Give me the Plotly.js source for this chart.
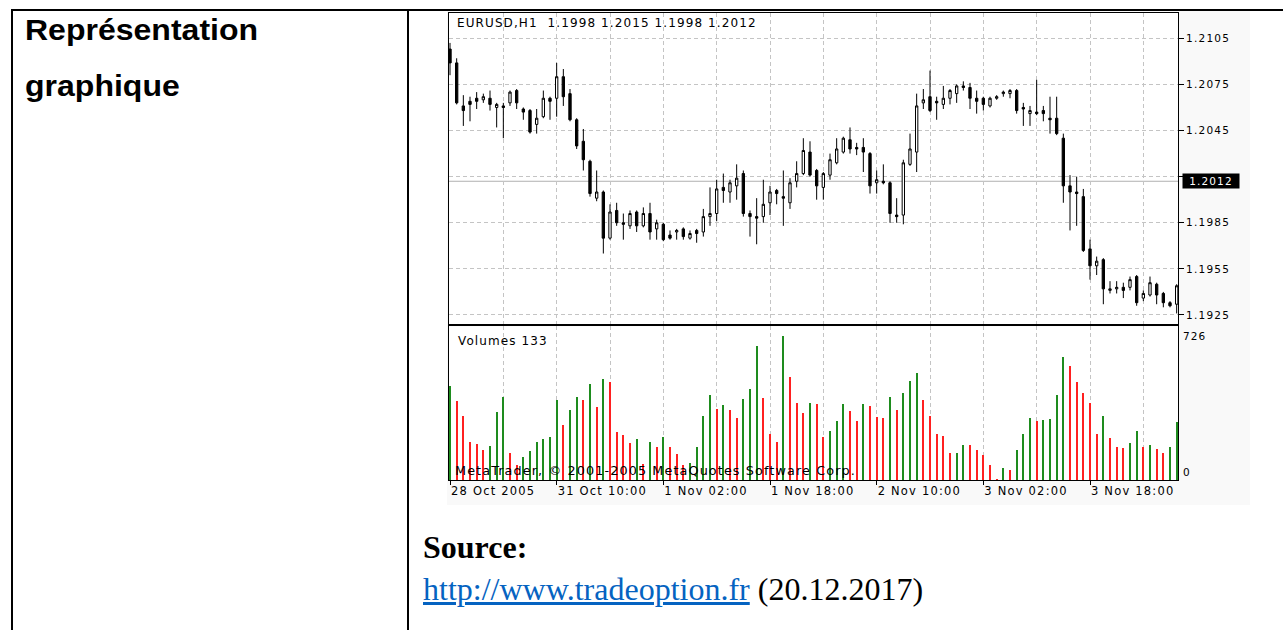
<!DOCTYPE html>
<html>
<head>
<meta charset="utf-8">
<script src="https://cdn.plot.ly/plotly-3.0.1.min.js"></script>
<style>
  html, body { margin:0; padding:0; background:#ffffff; }
  #page { position:relative; width:1283px; height:630px; overflow:hidden; background:#ffffff; }
  .line { position:absolute; background:#000000; }
  .cell-title { position:absolute; left:25px; font-family:'Liberation Sans', Arial, sans-serif; font-weight:bold; font-size:29px; line-height:1; color:#000; transform:scaleX(1.104); transform-origin:0 0; white-space:nowrap; }
  .src { position:absolute; left:423px; font-family:'Liberation Serif', 'Times New Roman', serif; font-size:32px; line-height:1; color:#000; white-space:nowrap; }
  .src a { color:#0563c1; text-decoration:underline; }
  #chart { position:absolute; left:447px; top:11px; width:803px; height:494px; }
  .xtick text, .x2tick text { letter-spacing:1.2px; }
  .ytick text, .y2tick text { letter-spacing:1.2px; }
  .annotation-text { letter-spacing:1.1px; }
</style>
</head>
<body>
<div id="page">
  <div class="line" style="left:11px; top:9px; width:1272px; height:2px;"></div>
  <div class="line" style="left:11px; top:9px; width:2px; height:621px;"></div>
  <div class="line" style="left:407px; top:9px; width:2px; height:621px;"></div>
  <div class="cell-title" style="top:16px;">Représentation</div>
  <div class="cell-title" style="top:71.5px;">graphique</div>
  <div id="chart"></div>
  <div class="src" style="top:531px; font-weight:bold;">Source:</div>
  <div class="src" style="top:573px;"><a href="http://www.tradeoption.fr">http://www.tradeoption.fr</a> (20.12.2017)</div>
</div>
<script>
// ---- Data (EURUSD H1, 28 Oct 2005 18:00 -> 3 Nov 2005) ----
const openP  = [1.2098,1.2089,1.2061,1.2064,1.2066,1.2065,1.2066,1.2060,1.2061,1.2063,
                1.2071,1.2059,1.2058,1.2049,1.2054,1.2066,1.2066,1.2080,1.2069,1.2052,
                1.2038,1.2025,1.2001,1.2005,1.1975,1.1993,1.1985,1.1983,1.1992,1.1983,
                1.1991,1.1981,1.1984,1.1977,1.1979,1.1981,1.1975,1.1980,1.1979,1.1989,
                1.1991,1.2008,1.2005,1.2009,1.2017,1.1991,1.1989,1.1989,1.1998,1.2006,
                1.2002,1.1998,1.2012,1.2017,1.2031,1.2019,1.2008,1.2016,1.2024,1.2031,
                1.2039,1.2034,1.2034,1.2030,1.2011,1.2012,1.2011,1.1990,1.1990,1.2023,
                1.2031,1.2063,1.2067,1.2064,1.2062,1.2066,1.2069,1.2074,1.2073,1.2066,
                1.2066,1.2061,1.2066,1.2069,1.2069,1.2071,1.2060,1.2056,1.2057,1.2058,
                1.2053,1.2053,1.2040,1.2009,1.2005,1.2002,1.1968,1.1957,1.1961,1.1941,
                1.1942,1.1943,1.1943,1.1950,1.1936,1.1938,1.1945,1.1939,1.1933,1.1932];
const highP  = [1.2102,1.2092,1.2068,1.2067,1.2070,1.2069,1.2071,1.2063,1.2063,1.2071,
                1.2072,1.2060,1.2059,1.2059,1.2071,1.2067,1.2089,1.2085,1.2072,1.2053,
                1.2046,1.2026,1.2019,1.2006,1.1997,1.1998,1.1991,1.1993,1.1993,1.1995,
                1.1998,1.1987,1.1985,1.1980,1.1981,1.1982,1.1980,1.1981,1.1994,1.2008,
                1.2013,1.2017,1.2013,1.2023,1.2019,1.1993,1.2001,1.2013,1.2009,1.2007,
                1.2019,1.2014,1.2025,1.2040,1.2038,1.2020,1.2018,1.2030,1.2040,1.2041,
                1.2047,1.2037,1.2040,1.2031,1.2019,1.2023,1.2012,1.2001,1.2026,1.2043,
                1.2069,1.2072,1.2084,1.2067,1.2074,1.2072,1.2075,1.2077,1.2076,1.2071,
                1.2067,1.2067,1.2068,1.2071,1.2072,1.2072,1.2063,1.2061,1.2078,1.2061,
                1.2067,1.2067,1.2043,1.2016,1.2015,1.2007,1.1974,1.1963,1.1962,1.1947,
                1.1947,1.1946,1.1950,1.1951,1.1941,1.1950,1.1946,1.1940,1.1934,1.1945];
const lowP   = [1.2081,1.2062,1.2048,1.2051,1.2059,1.2063,1.2058,1.2047,1.2040,1.2061,
                1.2059,1.2052,1.2043,1.2043,1.2053,1.2052,1.2054,1.2061,1.2051,1.2033,
                1.2019,1.2002,1.1999,1.1965,1.1974,1.1983,1.1974,1.1981,1.1979,1.1982,
                1.1974,1.1974,1.1973,1.1974,1.1974,1.1974,1.1974,1.1972,1.1976,1.1983,
                1.1986,1.1998,1.1998,1.2000,1.1989,1.1976,1.1971,1.1985,1.1990,1.1997,
                1.1983,1.1994,1.2008,1.2016,1.2015,1.2000,1.2000,1.2013,1.2023,1.2030,
                1.2030,1.2029,1.2018,1.2004,1.2004,1.2010,1.1985,1.1985,1.1984,1.2022,
                1.2018,1.2059,1.2057,1.2052,1.2059,1.2062,1.2063,1.2071,1.2059,1.2056,
                1.2058,1.2060,1.2065,1.2067,1.2066,1.2056,1.2048,1.2048,1.2055,1.2051,
                1.2043,1.2042,1.1998,1.1980,1.1983,1.1966,1.1948,1.1951,1.1932,1.1939,
                1.1939,1.1936,1.1941,1.1931,1.1934,1.1937,1.1932,1.1930,1.1930,1.1926];
const closeP = [1.2089,1.2063,1.2058,1.2062,1.2064,1.2067,1.2062,1.2062,1.2060,1.2070,
                1.2063,1.2057,1.2044,1.2053,1.2066,1.2064,1.2080,1.2067,1.2052,1.2035,
                1.2026,1.2004,1.2005,1.1975,1.1992,1.1985,1.1984,1.1991,1.1983,1.1991,
                1.1979,1.1985,1.1974,1.1975,1.1980,1.1976,1.1978,1.1978,1.1989,1.1991,
                1.2007,1.2006,1.2011,1.2014,1.1991,1.1989,1.1988,1.1997,1.2005,1.2004,
                1.2001,1.2011,1.2017,1.2032,1.2016,1.2009,1.2017,1.2026,1.2033,1.2040,
                1.2033,1.2033,1.2031,1.2009,1.2013,1.2011,1.1991,1.1989,1.2024,1.2033,
                1.2061,1.2065,1.2058,1.2063,1.2066,1.2071,1.2074,1.2073,1.2066,1.2064,
                1.2062,1.2066,1.2067,1.2070,1.2071,1.2058,1.2059,1.2058,1.2056,1.2056,
                1.2052,1.2043,1.2009,1.2005,1.2004,1.1967,1.1957,1.1960,1.1942,1.1942,
                1.1943,1.1941,1.1948,1.1933,1.1939,1.1946,1.1938,1.1933,1.1931,1.1944];
const volume = [472,396,325,193,184,151,171,345,421,135,
                76,117,144,193,207,218,401,278,354,421,
                401,486,367,511,494,240,228,186,207,80,
                193,164,215,164,130,76,88,164,325,430,
                359,379,354,311,410,457,675,415,232,193,
                724,519,387,339,387,385,215,249,300,381,
                347,296,381,372,316,314,421,354,438,499,
                542,401,325,232,220,135,137,178,176,151,
                127,75,4,59,51,151,232,311,296,305,
                307,430,618,575,492,438,387,232,325,212,
                164,162,186,249,164,178,157,135,164,291];
const labelIdx   = [0,16,32,48,64,80,96];
const timeLabels = ['28 Oct 2005','31 Oct 10:00','1 Nov 02:00','1 Nov 18:00','2 Nov 10:00','3 Nov 02:00','3 Nov 18:00'];
const gridIdx    = [8,24,40,56,72,88,104];
const priceTicks = [1.1925,1.1955,1.1985,1.2015,1.2045,1.2075,1.2105];
const priceTickText = ['1.1925','1.1955','1.1985','','1.2045','1.2075','1.2105']; // 1.2015 hidden behind current-price box
const volTicks   = [0,726];
const lastPrice  = 1.2012;
const headerText = 'EURUSD,H1  1.1998 1.2015 1.1998 1.2012';
const volHeader  = 'Volumes 133';
const copyright  = 'MetaTrader, © 2001-2005 MetaQuotes Software Corp.';

// ---- Build ----
const idx = openP.map((_, i) => i);
const upVol = '#1e8c1e', downVol = '#ff2020';
const volColors = volume.map((v, i) => (i === 0 || v >= volume[i - 1]) ? upVol : downVol);

const gridColor = '#c4c4c4', gridDash = '4px,3px';
const xRange = [-0.15, 109.2];

const traces = [
  {
    type: 'candlestick', x: idx, open: openP, high: highP, low: lowP, close: closeP,
    xaxis: 'x', yaxis: 'y', whiskerwidth: 0, hoverinfo: 'skip',
    increasing: { line: { color: '#000000', width: 1 }, fillcolor: '#ffffff' },
    decreasing: { line: { color: '#000000', width: 1 }, fillcolor: '#000000' }
  },
  {
    type: 'bar', x: idx, y: volume, xaxis: 'x2', yaxis: 'y2', width: 0.3,
    marker: { color: volColors, line: { width: 0 } }, hoverinfo: 'skip'
  }
];

const axisCommon = {
  showline: true, mirror: true, linecolor: '#000000', linewidth: 1,
  zeroline: false, fixedrange: true
};

const layout = {
  width: 803, height: 494,
  margin: { l: 2, r: 72, t: 2, b: 25, pad: 0 },
  paper_bgcolor: '#f9f9f9', plot_bgcolor: '#ffffff',
  showlegend: false, boxgap: 0.5, bargap: 0,
  font: { family: 'DejaVu Sans', size: 11, color: '#000000' },
  xaxis: Object.assign({}, axisCommon, {
    domain: [0, 1], anchor: 'y', range: xRange, type: 'linear',
    rangeslider: { visible: false },
    tickmode: 'array', tickvals: labelIdx, ticktext: timeLabels, showticklabels: false, ticks: '',
    showgrid: true, gridcolor: gridColor, griddash: gridDash, gridwidth: 1,
    minor: { tickmode: 'array', tickvals: gridIdx, showgrid: true, gridcolor: gridColor, griddash: gridDash, ticks: '' }
  }),
  yaxis: Object.assign({}, axisCommon, {
    domain: [0.334, 1], anchor: 'x', side: 'right', range: [1.191912, 1.212146],
    tickmode: 'array', tickvals: priceTicks, ticktext: priceTickText,
    ticks: 'outside', ticklen: 5, tickcolor: '#000000',
    tickfont: { family: 'DejaVu Sans', size: 10.5, color: '#000000' },
    showgrid: true, gridcolor: gridColor, griddash: gridDash, gridwidth: 1
  }),
  xaxis2: Object.assign({}, axisCommon, {
    domain: [0, 1], anchor: 'y2', range: xRange, type: 'linear',
    tickmode: 'array', tickvals: labelIdx, ticktext: timeLabels,
    ticks: 'outside', ticklen: 4, tickcolor: '#000000', ticklabelposition: 'outside right',
    tickfont: { family: 'DejaVu Sans', size: 11.5, color: '#000000' },
    showgrid: true, gridcolor: gridColor, griddash: gridDash, gridwidth: 1,
    minor: { tickmode: 'array', tickvals: gridIdx, showgrid: true, gridcolor: gridColor, griddash: gridDash, ticks: '' }
  }),
  yaxis2: Object.assign({}, axisCommon, {
    domain: [0, 0.3287], anchor: 'x2', side: 'right', range: [0, 774],
    showticklabels: false, ticks: '', showgrid: false
  }),
  shapes: [
    { type: 'line', xref: 'x', yref: 'y', x0: xRange[0], x1: xRange[1], y0: lastPrice, y1: lastPrice,
      line: { color: '#b0b0b0', width: 1 }, layer: 'below' }
  ],
  annotations: [
    { text: headerText, xref: 'paper', yref: 'paper', x: 0.0082, y: 0.9786, xanchor: 'left', yanchor: 'middle',
      align: 'left', showarrow: false, font: { family: 'DejaVu Sans', size: 12, color: '#000' } },
    { text: volHeader, xref: 'paper', yref: 'paper', x: 0.0096, y: 0.2987, xanchor: 'left', yanchor: 'middle',
      align: 'left', showarrow: false, font: { family: 'DejaVu Sans', size: 12, color: '#000' } },
    { text: copyright, xref: 'paper', yref: 'paper', x: 0.0055, y: 0.0214, xanchor: 'left', yanchor: 'middle',
      align: 'left', showarrow: false, font: { family: 'DejaVu Sans', size: 12.8, color: '#000' } },
    { text: String(volTicks[1]), xref: 'paper', yref: 'y2', x: 1, y: volTicks[1], xanchor: 'left', yanchor: 'middle',
      xshift: 3, align: 'left', showarrow: false, font: { family: 'DejaVu Sans', size: 10.5, color: '#000' } },
    { text: String(volTicks[0]), xref: 'paper', yref: 'y2', x: 1, y: volTicks[0], xanchor: 'left', yanchor: 'middle',
      xshift: 3, yshift: 8, align: 'left', showarrow: false, font: { family: 'DejaVu Sans', size: 10.5, color: '#000' } },
    { text: lastPrice.toFixed(4), xref: 'paper', yref: 'y', x: 1, y: lastPrice, xanchor: 'left', yanchor: 'middle',
      xshift: 4, width: 54, height: 12, borderpad: 1, bgcolor: '#000000', align: 'center', showarrow: false,
      font: { family: 'DejaVu Sans', size: 10.5, color: '#ffffff' } }
  ]
};

Plotly.newPlot('chart', traces, layout, { staticPlot: true, displayModeBar: false });
</script>
</body>
</html>
